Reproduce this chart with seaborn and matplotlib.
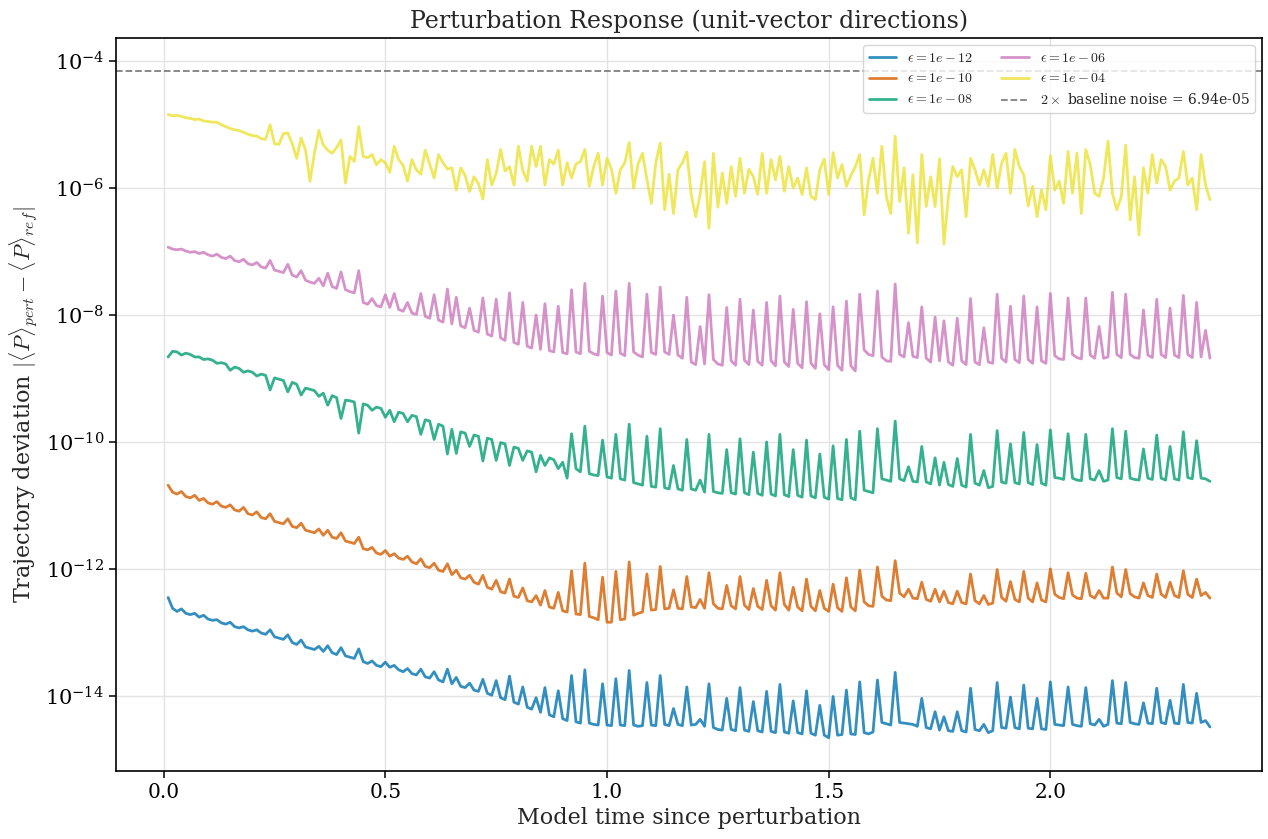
import numpy as np
import pandas as pd
import matplotlib
matplotlib.use("Agg")
import matplotlib.pyplot as plt
from matplotlib.ticker import NullFormatter, FixedLocator, LogFormatterSciNotation
import seaborn as sns

# ---------------- data (log10 of |<P>_pert - <P>_ref|) ----------------
DT = 0.01  # model-time sampling interval

log10_dev_eps_1e12 = [
    -12.45, -12.62, -12.67, -12.63, -12.70, -12.72, -12.70, -12.76, -12.73, -12.79,
    -12.81, -12.80, -12.85, -12.87, -12.84, -12.91, -12.93, -12.91, -12.96, -12.98,
    -12.96, -13.01, -13.03, -12.96, -13.07, -13.09, -13.11, -13.04, -13.16, -13.19,
    -13.12, -13.23, -13.25, -13.27, -13.22, -13.30, -13.21, -13.32, -13.35, -13.24,
    -13.37, -13.39, -13.41, -13.26, -13.46, -13.49, -13.45, -13.52, -13.54, -13.47,
    -13.55, -13.52, -13.59, -13.62, -13.57, -13.65, -13.67, -13.58, -13.70, -13.72,
    -13.62, -13.75, -13.78, -13.58, -13.81, -13.71, -13.85, -13.87, -13.80, -13.91,
    -13.93, -13.74, -13.96, -13.99, -13.76, -14.03, -14.06, -13.69, -14.10, -14.13,
    -13.86, -14.18, -14.21, -14.03, -14.26, -13.87, -14.30, -14.33, -13.92, -14.36,
    -14.39, -13.68, -14.41, -14.43, -13.59, -14.43, -14.45, -14.46, -13.81, -14.46,
    -14.47, -13.73, -14.46, -14.47, -13.60, -14.46, -14.48, -14.47, -13.79, -14.46,
    -14.47, -13.68, -14.45, -14.47, -14.20, -14.45, -14.47, -13.86, -14.46, -14.45,
    -14.37, -14.48, -13.81, -14.50, -14.53, -14.54, -14.04, -14.53, -14.55, -13.87,
    -14.54, -14.56, -14.09, -14.55, -14.57, -13.93, -14.56, -14.58, -13.82, -14.57,
    -14.59, -14.08, -14.58, -14.60, -13.92, -14.59, -14.62, -14.15, -14.62, -14.66,
    -14.01, -14.62, -14.61, -13.91, -14.60, -14.61, -13.78, -14.58, -14.60, -14.57,
    -13.75, -14.42, -14.44, -14.46, -13.63, -14.42, -14.43, -14.44, -14.45, -14.48,
    -14.04, -14.50, -14.52, -14.25, -14.54, -14.33, -14.55, -14.56, -14.25, -14.55,
    -14.57, -13.88, -14.53, -14.55, -14.45, -14.58, -14.55, -13.79, -14.50, -14.51,
    -14.02, -14.50, -14.52, -13.83, -14.51, -14.52, -14.04, -14.52, -14.53, -13.78,
    -14.45, -14.46, -14.47, -13.86, -14.45, -14.47, -14.48, -13.87, -14.44, -14.46,
    -14.37, -14.48, -14.45, -13.76, -14.43, -14.44, -13.79, -14.42, -14.44, -14.45,
    -14.11, -14.43, -14.44, -13.88, -14.42, -14.44, -14.07, -14.43, -14.44, -13.82,
    -14.42, -14.43, -13.96, -14.42, -14.39, -14.49,
]

log10_dev_eps_1e10 = [
    -10.68, -10.79, -10.82, -10.78, -10.86, -10.88, -10.84, -10.92, -10.89, -10.96,
    -10.98, -10.94, -11.01, -11.03, -10.99, -11.07, -11.09, -11.03, -11.13, -11.15,
    -11.10, -11.19, -11.21, -11.13, -11.25, -11.27, -11.29, -11.21, -11.33, -11.35,
    -11.28, -11.39, -11.41, -11.43, -11.37, -11.47, -11.39, -11.50, -11.52, -11.43,
    -11.56, -11.58, -11.60, -11.50, -11.68, -11.70, -11.66, -11.75, -11.77, -11.71,
    -11.80, -11.76, -11.83, -11.85, -11.80, -11.89, -11.92, -11.84, -11.96, -11.98,
    -11.91, -12.02, -12.04, -11.92, -12.09, -12.02, -12.14, -12.16, -12.10, -12.21,
    -12.24, -12.10, -12.29, -12.32, -12.18, -12.36, -12.38, -12.16, -12.43, -12.45,
    -12.30, -12.50, -12.52, -12.42, -12.57, -12.34, -12.60, -12.62, -12.37, -12.66,
    -12.68, -12.03, -12.71, -12.72, -11.91, -12.75, -12.77, -12.80, -12.13, -12.84,
    -12.84, -12.04, -12.80, -12.79, -11.89, -12.73, -12.70, -12.68, -12.08, -12.65,
    -12.64, -11.96, -12.63, -12.62, -12.33, -12.62, -12.63, -12.12, -12.60, -12.61,
    -12.48, -12.62, -12.06, -12.55, -12.62, -12.63, -12.26, -12.58, -12.63, -12.12,
    -12.57, -12.64, -12.31, -12.59, -12.64, -12.18, -12.58, -12.65, -12.06, -12.56,
    -12.65, -12.29, -12.60, -12.66, -12.16, -12.59, -12.66, -12.34, -12.62, -12.67,
    -12.24, -12.61, -12.67, -12.14, -12.60, -12.66, -12.02, -12.52, -12.58, -12.59,
    -11.97, -12.43, -12.49, -12.50, -11.87, -12.38, -12.44, -12.32, -12.46, -12.47,
    -12.21, -12.48, -12.51, -12.32, -12.52, -12.35, -12.53, -12.55, -12.35, -12.53,
    -12.55, -12.08, -12.50, -12.55, -12.42, -12.56, -12.54, -12.01, -12.45, -12.51,
    -12.20, -12.48, -12.52, -12.04, -12.46, -12.52, -12.22, -12.49, -12.52, -12.00,
    -12.40, -12.45, -12.47, -12.06, -12.41, -12.46, -12.47, -12.07, -12.42, -12.46,
    -12.34, -12.46, -12.46, -11.97, -12.38, -12.44, -12.01, -12.39, -12.44, -12.46,
    -12.22, -12.42, -12.45, -12.08, -12.40, -12.45, -12.21, -12.42, -12.45, -12.03,
    -12.40, -12.45, -12.16, -12.42, -12.37, -12.46,
]

log10_dev_eps_1e08 = [
    -8.66, -8.57, -8.58, -8.63, -8.60, -8.62, -8.66, -8.66, -8.70, -8.69,
    -8.71, -8.76, -8.75, -8.77, -8.87, -8.82, -8.84, -8.90, -8.88, -8.90,
    -8.96, -8.93, -8.95, -9.18, -8.99, -9.01, -9.03, -9.21, -9.06, -9.09,
    -9.26, -9.15, -9.17, -9.19, -9.28, -9.23, -9.42, -9.27, -9.30, -9.63,
    -9.34, -9.35, -9.37, -9.86, -9.40, -9.42, -9.50, -9.45, -9.47, -9.61,
    -9.50, -9.68, -9.53, -9.55, -9.68, -9.58, -9.60, -9.88, -9.65, -9.67,
    -9.96, -9.72, -9.75, -10.19, -9.80, -10.18, -9.84, -9.86, -10.07, -9.89,
    -9.91, -10.30, -9.94, -9.96, -10.29, -10.01, -10.03, -10.37, -10.08, -10.10,
    -10.29, -10.14, -10.16, -10.47, -10.21, -10.37, -10.25, -10.28, -10.42, -10.32,
    -10.57, -9.87, -10.42, -10.47, -9.75, -10.50, -10.52, -10.53, -9.97, -10.55,
    -10.57, -9.88, -10.58, -10.60, -9.72, -10.64, -10.66, -10.68, -9.91, -10.70,
    -10.71, -9.79, -10.72, -10.74, -10.37, -10.74, -10.76, -9.96, -10.74, -10.76,
    -10.60, -10.79, -9.88, -10.78, -10.80, -10.81, -10.12, -10.80, -10.82, -9.95,
    -10.80, -10.83, -10.16, -10.81, -10.84, -10.00, -10.82, -10.85, -9.88, -10.83,
    -10.86, -10.12, -10.84, -10.87, -9.97, -10.85, -10.88, -10.19, -10.87, -10.90,
    -10.06, -10.89, -10.91, -9.96, -10.88, -10.91, -9.83, -10.76, -10.78, -10.80,
    -9.79, -10.58, -10.60, -10.62, -9.67, -10.58, -10.61, -10.39, -10.62, -10.63,
    -10.07, -10.63, -10.66, -10.25, -10.68, -10.32, -10.67, -10.70, -10.26, -10.68,
    -10.71, -9.88, -10.65, -10.68, -10.45, -10.72, -10.70, -9.82, -10.63, -10.65,
    -10.03, -10.64, -10.66, -9.85, -10.64, -10.67, -10.04, -10.65, -10.68, -9.81,
    -10.56, -10.57, -10.59, -9.87, -10.57, -10.60, -10.61, -9.88, -10.58, -10.60,
    -10.45, -10.62, -10.60, -9.79, -10.56, -10.58, -9.83, -10.57, -10.59, -10.60,
    -10.11, -10.57, -10.59, -9.89, -10.57, -10.60, -10.07, -10.58, -10.60, -9.84,
    -10.56, -10.58, -9.98, -10.57, -10.58, -10.62,
]

log10_dev_eps_1e06 = [
    -6.93, -6.96, -6.97, -6.96, -6.99, -7.01, -7.00, -7.03, -7.01, -7.05,
    -7.07, -7.04, -7.09, -7.11, -7.07, -7.14, -7.16, -7.12, -7.19, -7.21,
    -7.17, -7.24, -7.26, -7.14, -7.29, -7.31, -7.33, -7.20, -7.37, -7.40,
    -7.30, -7.45, -7.48, -7.50, -7.42, -7.54, -7.34, -7.55, -7.58, -7.32,
    -7.60, -7.63, -7.65, -7.30, -7.80, -7.83, -7.74, -7.85, -7.87, -7.68,
    -7.88, -7.66, -7.91, -7.94, -7.80, -7.97, -7.99, -7.66, -8.02, -8.05,
    -7.68, -8.08, -8.11, -7.59, -8.14, -7.72, -8.17, -8.20, -7.89, -8.24,
    -8.27, -7.73, -8.30, -8.33, -7.75, -8.36, -8.40, -7.65, -8.43, -8.46,
    -7.80, -8.49, -8.52, -8.00, -8.54, -7.82, -8.56, -8.58, -7.86, -8.59,
    -8.61, -7.60, -8.58, -8.61, -7.50, -8.57, -8.61, -8.63, -7.70, -8.59,
    -8.63, -7.62, -8.60, -8.64, -7.50, -8.58, -8.63, -8.66, -7.67, -8.59,
    -8.62, -7.56, -8.58, -8.62, -8.00, -8.63, -8.68, -7.72, -8.74, -8.78,
    -8.18, -8.77, -7.68, -8.70, -8.77, -8.79, -7.88, -8.72, -8.79, -7.75,
    -8.71, -8.78, -7.92, -8.73, -8.79, -7.80, -8.72, -8.80, -7.70, -8.74,
    -8.81, -7.91, -8.76, -8.83, -7.79, -8.76, -8.84, -7.98, -8.78, -8.86,
    -7.87, -8.79, -8.87, -7.78, -8.80, -8.88, -7.67, -8.55, -8.62, -8.64,
    -7.62, -8.66, -8.72, -8.73, -7.51, -8.62, -8.66, -8.12, -8.65, -8.67,
    -7.87, -8.68, -8.74, -8.03, -8.72, -8.09, -8.74, -8.79, -8.05, -8.72,
    -8.78, -7.74, -8.74, -8.78, -8.20, -8.74, -8.76, -7.67, -8.68, -8.74,
    -7.86, -8.70, -8.75, -7.70, -8.70, -8.76, -7.87, -8.72, -8.76, -7.66,
    -8.64, -8.69, -8.70, -7.73, -8.62, -8.67, -8.69, -7.73, -8.63, -8.68,
    -8.18, -8.68, -8.66, -7.64, -8.62, -8.67, -7.67, -8.62, -8.67, -8.68,
    -7.92, -8.63, -8.67, -7.75, -8.62, -8.67, -7.89, -8.63, -8.67, -7.69,
    -8.62, -8.67, -7.80, -8.66, -8.24, -8.68,
]

log10_dev_eps_1e04 = [
    -4.84, -4.86, -4.85, -4.87, -4.89, -4.90, -4.92, -4.91, -4.94, -4.95,
    -4.96, -4.96, -5.00, -5.03, -5.06, -5.08, -5.09, -5.12, -5.15, -5.17,
    -5.18, -5.22, -5.23, -5.00, -5.30, -5.31, -5.14, -5.13, -5.30, -5.53,
    -5.21, -5.40, -5.89, -5.45, -5.09, -5.32, -5.40, -5.45, -5.36, -5.24,
    -5.92, -5.50, -5.58, -5.03, -5.50, -5.52, -5.47, -5.63, -5.55, -5.60,
    -5.75, -5.34, -5.55, -5.64, -5.89, -5.55, -5.71, -5.78, -5.40, -5.62,
    -5.84, -5.47, -5.60, -5.70, -5.68, -6.03, -5.68, -5.80, -6.05, -5.82,
    -5.93, -6.17, -5.55, -5.95, -5.77, -5.39, -5.73, -5.66, -5.95, -5.34,
    -5.72, -5.89, -5.34, -5.66, -5.34, -5.95, -5.55, -5.62, -5.40, -5.95,
    -5.60, -5.84, -5.62, -5.58, -5.39, -5.97, -5.66, -5.45, -5.95, -5.53,
    -5.70, -6.08, -5.71, -5.60, -5.28, -6.00, -5.62, -5.45, -5.86, -6.24,
    -5.60, -5.29, -6.34, -5.78, -6.40, -5.71, -5.60, -5.43, -6.10, -6.45,
    -6.10, -5.58, -6.63, -5.45, -6.30, -5.76, -6.24, -5.66, -6.13, -5.53,
    -6.08, -5.70, -5.82, -6.10, -5.45, -6.08, -5.55, -5.87, -5.50, -6.05,
    -5.66, -6.00, -5.84, -6.10, -5.68, -6.13, -6.18, -5.71, -5.54, -6.10,
    -5.44, -5.84, -5.63, -5.97, -5.80, -5.66, -5.47, -6.42, -5.87, -5.53,
    -6.08, -5.34, -6.13, -6.40, -5.18, -6.21, -5.68, -6.71, -5.79, -6.86,
    -5.47, -6.29, -5.82, -6.29, -5.54, -6.88, -6.13, -5.66, -5.82, -5.71,
    -6.45, -5.53, -5.71, -5.95, -5.71, -5.97, -5.47, -6.00, -5.61, -5.45,
    -6.08, -5.39, -5.66, -5.79, -6.28, -5.97, -6.45, -6.03, -6.34, -5.49,
    -6.03, -5.89, -6.24, -5.42, -6.08, -5.45, -6.40, -5.39, -5.63, -6.08,
    -6.13, -5.84, -5.26, -6.08, -6.34, -6.13, -5.32, -6.50, -5.82, -6.74,
    -5.68, -6.08, -5.47, -5.92, -5.55, -5.66, -6.03, -5.89, -5.84, -5.42,
    -5.95, -5.84, -6.34, -5.47, -5.95, -6.18,
]

series_labels = [
    r"$\epsilon=1e-12$",
    r"$\epsilon=1e-10$",
    r"$\epsilon=1e-08$",
    r"$\epsilon=1e-06$",
    r"$\epsilon=1e-04$",
]
series_log10 = [
    log10_dev_eps_1e12,
    log10_dev_eps_1e10,
    log10_dev_eps_1e08,
    log10_dev_eps_1e06,
    log10_dev_eps_1e04,
]
baseline_noise_2x = 6.94e-05
y_tick_exponents = [-14, -12, -10, -8, -6, -4]

# ---------------- long-form table ----------------
frames = []
for lab, vals in zip(series_labels, series_log10):
    n = len(vals)
    t = np.arange(1, n + 1) * DT
    frames.append(pd.DataFrame({"time": t,
                                "deviation": np.power(10.0, np.asarray(vals)),
                                "series": lab}))
df = pd.concat(frames, ignore_index=True)

# ---------------- style ----------------
sns.set_theme(style="whitegrid")
plt.rcParams.update({
    "font.family": ["DejaVu Serif"],
    "mathtext.fontset": "cm",
    "axes.edgecolor": "black",
    "axes.linewidth": 1.2,
    "axes.facecolor": "white",
    "grid.color": "#e3e3e3",
    "grid.linewidth": 1.0,
    "xtick.bottom": True,
    "ytick.left": True,
    "xtick.major.size": 5,
    "ytick.major.size": 5,
    "xtick.minor.size": 0,
    "ytick.minor.size": 0,
    "xtick.major.width": 1.1,
    "ytick.major.width": 1.1,
    "xtick.color": "black",
    "ytick.color": "black",
    "xtick.labelsize": 14.5,
    "ytick.labelsize": 15,
})

cb = sns.color_palette("colorblind")
palette = {series_labels[0]: cb[0], series_labels[1]: cb[3], series_labels[2]: cb[2],
           series_labels[3]: cb[4], series_labels[4]: cb[8]}

fig, ax = plt.subplots(figsize=(12.68, 8.39), dpi=100)
fig.subplots_adjust(left=0.0915, right=0.9953, bottom=0.081, top=0.9547)

sns.lineplot(data=df, x="time", y="deviation", hue="series", hue_order=series_labels,
             palette=palette, estimator=None, sort=False, linewidth=2.0, alpha=0.8, ax=ax)
ax.axhline(baseline_noise_2x, color="gray", linestyle="--", linewidth=1.3,
           label=r"$2\times$ baseline noise = 6.94e-05")
ax.set_yscale("log")
ax.yaxis.set_major_locator(FixedLocator([10.0 ** e for e in y_tick_exponents]))
ax.yaxis.set_major_formatter(LogFormatterSciNotation())
ax.yaxis.set_minor_formatter(NullFormatter())

for s in ax.spines.values():
    s.set_visible(True)
    s.set_color("black")

ax.set_title("Perturbation Response (unit-vector directions)", fontsize=17, pad=7)
ax.set_xlabel("Model time since perturbation", fontsize=16, labelpad=4)
ax.set_ylabel(r"Trajectory deviation $|\langle P\rangle_{pert} - \langle P\rangle_{ref}|$",
              fontsize=16, labelpad=4)

handles, labels = ax.get_legend_handles_labels()
leg = ax.legend(handles, labels, loc="upper right", ncol=2, fontsize=10, frameon=True,
                framealpha=0.8, edgecolor="#cccccc", fancybox=True)

fig.savefig("out.png", dpi=100)
